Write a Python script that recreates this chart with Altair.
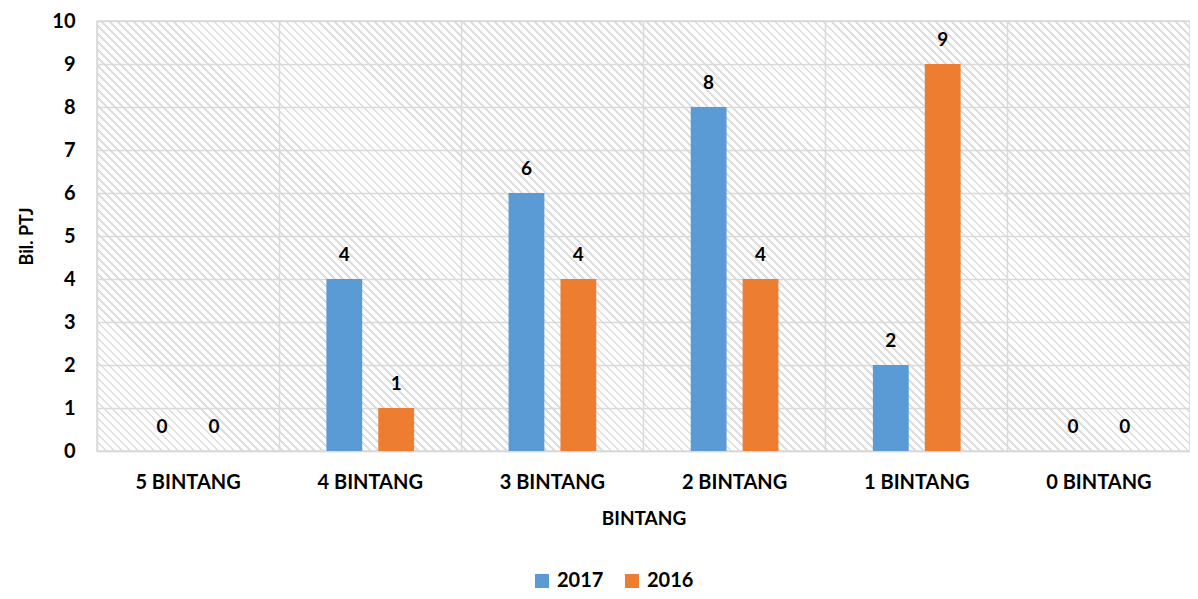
import altair as alt
import pandas as pd

categories = ["5 BINTANG", "4 BINTANG", "3 BINTANG", "2 BINTANG", "1 BINTANG", "0 BINTANG"]
series = ["2017", "2016"]
values_2017 = [0, 4, 6, 8, 2, 0]
values_2016 = [0, 1, 4, 4, 9, 0]
y_ticks = [0, 1, 2, 3, 4, 5, 6, 7, 8, 9, 10]

rows = []
for c, a, b in zip(categories, values_2017, values_2016):
    rows.append({"cat": c, "series": "2017", "val": a})
    rows.append({"cat": c, "series": "2016", "val": b})
df = pd.DataFrame(rows)

W, H = 1093, 430
FONT = "Lato"

# hatched background as a striped linear gradient (45 degree stripes)
s = (W + H) / (W * W + H * H)
x2g, y2g = W * s, 1 - H * s
period = 8.0
N = int(round((W + H) / period))
frac = 0.34
gray, white = "#dedede", "#ffffff"
stops = []
for i in range(N):
    o0 = i / N
    o1 = (i + frac) / N
    o2 = (i + 1) / N
    stops += [f"{{offset:{o0:.5f},color:'{gray}'}}", f"{{offset:{o1:.5f},color:'{gray}'}}",
              f"{{offset:{o1:.5f},color:'{white}'}}", f"{{offset:{o2:.5f},color:'{white}'}}"]
grad_expr = ("{gradient:'linear',x1:0,y1:1,x2:%.5f,y2:%.5f,stops:[%s]}" % (x2g, y2g, ",".join(stops)))

x_enc = alt.X("cat:N", sort=categories, scale=alt.Scale(paddingInner=0, paddingOuter=0),
              axis=alt.Axis(title="BINTANG", labelAngle=0, bandPosition=0, grid=True,
                            gridColor="#d9d9d9", gridWidth=1.5, ticks=False,
                            domainColor="#d9d9d9", domainWidth=1.5,
                            labelFont=FONT, labelFontSize=20, labelFontWeight="bold",
                            labelColor="#000000", labelPadding=21,
                            titleFont=FONT, titleFontSize=19, titleFontWeight="bold",
                            titleColor="#000000", titlePadding=17))
xo_enc = alt.XOffset("series:N", sort=series,
                     scale=alt.Scale(domain=series, paddingInner=0.31, paddingOuter=0.91))
y_enc = alt.Y("val:Q", scale=alt.Scale(domain=[0, 10], nice=False),
              axis=alt.Axis(title="Bil. PTJ", values=y_ticks, grid=True, gridColor="#d9d9d9",
                            gridWidth=1.5, ticks=False, domain=False,
                            labelFont=FONT, labelFontSize=20, labelFontWeight="bold",
                            labelColor="#000000", labelPadding=22,
                            titleFont=FONT, titleFontSize=18, titleFontWeight="bold",
                            titleColor="#000000", titlePadding=15))

color_enc = alt.Color("series:N", sort=series,
                      scale=alt.Scale(domain=series, range=["#5B9BD5", "#ED7D31"]),
                      legend=alt.Legend(title=None, orient="none", legendX=435, legendY=550,
                                        direction="horizontal", symbolType="square",
                                        symbolSize=196, symbolStrokeWidth=0,
                                        labelFont=FONT, labelFontSize=20, labelFontWeight="bold",
                                        labelColor="#000000", labelOffset=5, columnPadding=18))

bars = alt.Chart(df).mark_bar().encode(x=x_enc, xOffset=xo_enc, y=y_enc, color=color_enc)
labels = alt.Chart(df).mark_text(font=FONT, fontSize=19, fontWeight="bold", color="#000000",
                                 baseline="alphabetic", dy=-18).encode(
    x=x_enc, xOffset=xo_enc, y=y_enc, text="val:Q")

chart = alt.layer(bars, labels).properties(
    width=W, height=H,
    autosize=alt.AutoSizeParams(type="none"),
    padding={"left": 89, "top": 13, "right": 0, "bottom": 140},
    view=alt.ViewBackground(fill=alt.ExprRef(grad_expr), stroke="#d9d9d9", strokeWidth=1.5),
).configure(background="#ffffff")

chart.save("out.html", embed_options={"renderer": "svg", "actions": False})
